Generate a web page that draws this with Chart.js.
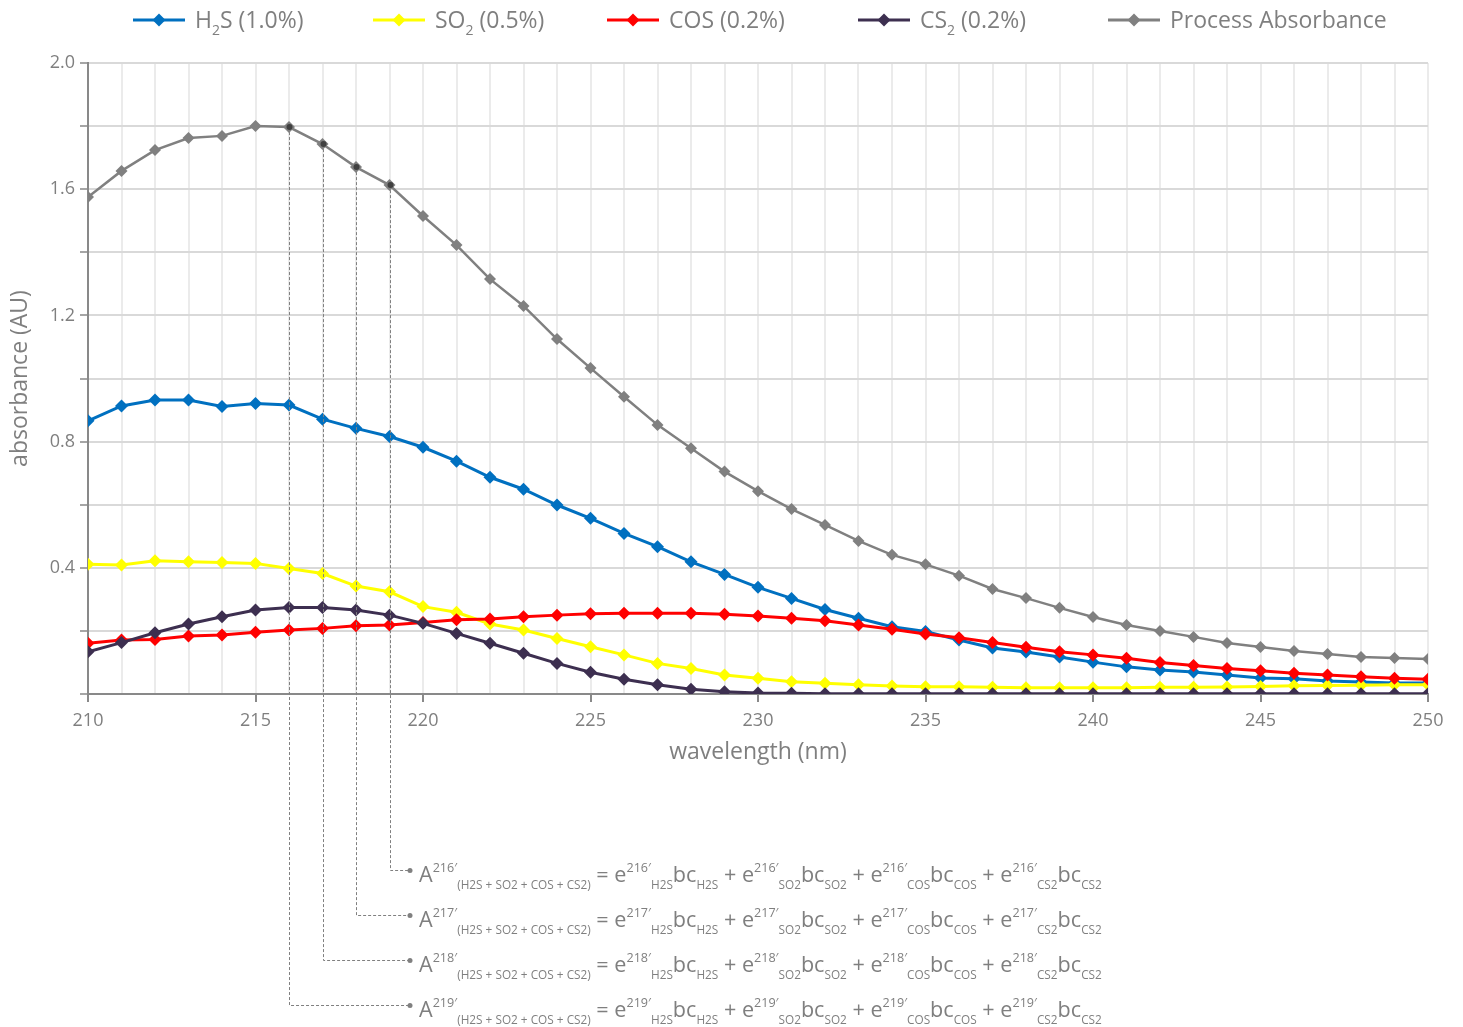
<!DOCTYPE html>
<html lang="en">
<head>
<meta charset="UTF-8">
<title>Absorbance</title>
<script src="https://cdn.jsdelivr.net/npm/chart.js@4.4.1/dist/chart.umd.min.js"></script>
<style>
    html, body { margin: 0; padding: 0; background: #ffffff; }
    canvas { display: block; }
</style>
</head>
<body>
<canvas id="grafico" width="1463" height="1027"></canvas>
<script>
    // comprimentos de onda (nm)
    var comprimentos = [210, 211, 212, 213, 214, 215, 216, 217, 218, 219, 220, 221, 222, 223, 224, 225, 226, 227, 228, 229,
        230, 231, 232, 233, 234, 235, 236, 237, 238, 239, 240, 241, 242, 243, 244, 245, 246, 247, 248, 249, 250];

    var h2s = [0.866, 0.913, 0.932, 0.932, 0.911, 0.921, 0.916, 0.871, 0.842, 0.816, 0.782, 0.738, 0.687, 0.649, 0.599,
        0.557, 0.509, 0.467, 0.419, 0.379, 0.338, 0.303, 0.268, 0.240, 0.213, 0.198, 0.171, 0.146, 0.133, 0.117,
        0.101, 0.086, 0.076, 0.070, 0.060, 0.051, 0.048, 0.041, 0.038, 0.035, 0.035];
    var so2 = [0.411, 0.409, 0.422, 0.419, 0.417, 0.414, 0.398, 0.382, 0.342, 0.324, 0.277, 0.259, 0.222, 0.203, 0.176,
        0.150, 0.124, 0.097, 0.081, 0.060, 0.050, 0.039, 0.034, 0.029, 0.025, 0.023, 0.023, 0.021, 0.020, 0.020,
        0.020, 0.020, 0.021, 0.021, 0.022, 0.024, 0.026, 0.027, 0.028, 0.029, 0.029];
    var cos = [0.161, 0.171, 0.173, 0.184, 0.187, 0.196, 0.203, 0.208, 0.216, 0.219, 0.227, 0.235, 0.238, 0.245, 0.250,
        0.254, 0.256, 0.256, 0.256, 0.253, 0.247, 0.240, 0.232, 0.219, 0.205, 0.190, 0.178, 0.163, 0.148, 0.134,
        0.124, 0.113, 0.100, 0.090, 0.081, 0.074, 0.066, 0.060, 0.055, 0.050, 0.047];
    var cs2 = [0.134, 0.163, 0.194, 0.222, 0.245, 0.266, 0.274, 0.274, 0.266, 0.250, 0.224, 0.192, 0.161, 0.129, 0.097,
        0.069, 0.047, 0.029, 0.015, 0.007, 0.003, 0.002, 0.001, 0.001, 0.001, 0.001, 0.001, 0.001, 0.001, 0.001,
        0.001, 0.001, 0.001, 0.001, 0.001, 0.001, 0.001, 0.001, 0.001, 0.001, 0.001];
    var processo = [1.575, 1.658, 1.724, 1.762, 1.769, 1.800, 1.797, 1.743, 1.670, 1.613, 1.515, 1.423, 1.315, 1.230, 1.125,
        1.033, 0.942, 0.853, 0.779, 0.705, 0.643, 0.586, 0.536, 0.485, 0.441, 0.411, 0.375, 0.333, 0.304, 0.273,
        0.244, 0.219, 0.200, 0.181, 0.162, 0.149, 0.136, 0.127, 0.117, 0.114, 0.111];

    var nomes = ['H2S (1.0%)', 'SO2 (0.5%)', 'COS (0.2%)', 'CS2 (0.2%)', 'Process Absorbance'];
    // mesma legenda, em pedaços (n = normal, sub = subscrito)
    var nomesRicos = [
        [['H', 'n'], ['2', 'sub'], ['S (1.0%)', 'n']],
        [['SO', 'n'], ['2', 'sub'], [' (0.5%)', 'n']],
        [['COS (0.2%)', 'n']],
        [['CS', 'n'], ['2', 'sub'], [' (0.2%)', 'n']],
        [['Process Absorbance', 'n']]
    ];
    var cores = ['#0070C0', '#FFFF00', '#FF0000', '#3D2F50', '#808080'];

    // pontos da curva de processo ligados as equacoes (de cima para baixo)
    var ligacoes = [219, 218, 217, 216];
    var rotulos = ['216\u2032', '217\u2032', '218\u2032', '219\u2032'];

    var fonte = '"Open Sans", "DejaVu Sans", sans-serif';
    var cinza = '#7F7F7F';
    var inicioLegenda = [133, 373, 607, 858, 1108];

    function serie(i, dados, largura, raio) {
        return {
            label: nomes[i],
            data: comprimentos.map(function (x, k) { return { x: x, y: dados[k] }; }),
            borderColor: cores[i],
            backgroundColor: cores[i],
            borderWidth: largura,
            pointStyle: 'rectRot',
            pointRadius: raio,
            pointHoverRadius: raio,
            pointBorderWidth: 0,
            tension: 0,
            order: 5 - i
        };
    }

    // escreve texto com pedacos sobrescritos / subscritos
    function textoRico(ctx, partes, x, base, tam) {
        partes.forEach(function (p) {
            var dy = 0;
            if (p[1] === 'sup') { ctx.font = tam.sup + 'px ' + fonte; dy = -tam.dsup; }
            else if (p[1] === 'sub') { ctx.font = tam.sub + 'px ' + fonte; dy = tam.dsub; }
            else { ctx.font = tam.n + 'px ' + fonte; }
            ctx.fillText(p[0], x, base + dy);
            x += ctx.measureText(p[0]).width;
        });
        return x;
    }

    var legenda = {
        id: 'legenda',
        afterDraw: function (chart) {
            var ctx = chart.ctx;
            var y = 20;
            ctx.save();
            ctx.textBaseline = 'alphabetic';
            for (var i = 0; i < nomes.length; i++) {
                var x = inicioLegenda[i];
                ctx.strokeStyle = cores[i];
                ctx.fillStyle = cores[i];
                ctx.lineWidth = 3;
                ctx.beginPath(); ctx.moveTo(x, y); ctx.lineTo(x + 52, y); ctx.stroke();
                ctx.beginPath();
                ctx.moveTo(x + 26, y - 6.5); ctx.lineTo(x + 32.5, y); ctx.lineTo(x + 26, y + 6.5); ctx.lineTo(x + 19.5, y);
                ctx.closePath(); ctx.fill();
                ctx.fillStyle = cinza;
                textoRico(ctx, nomesRicos[i], x + 62, y + 8, { n: 23, sub: 14, dsub: 7, sup: 14, dsup: 9 });
            }
            ctx.restore();
        }
    };

    var equacoes = {
        id: 'equacoes',
        afterDatasetsDraw: function (chart) {
            var ctx = chart.ctx;
            var sx = chart.scales.x, sy = chart.scales.y;
            ctx.save();
            for (var i = 0; i < ligacoes.length; i++) {
                var k = comprimentos.indexOf(ligacoes[i]);
                var px = Math.round(sx.getPixelForValue(ligacoes[i])) + 0.5;
                var py = sy.getPixelForValue(processo[k]);
                var ry = Math.round(chart.chartArea.bottom + 176 + i * 45) + 0.5;
                ctx.strokeStyle = '#808080';
                ctx.lineWidth = 1;
                ctx.setLineDash([3, 2]);
                ctx.beginPath();
                ctx.moveTo(px, py);
                ctx.lineTo(px, ry);
                ctx.lineTo(410, ry);
                ctx.stroke();
                ctx.setLineDash([]);
                ctx.fillStyle = '#808080';
                ctx.beginPath(); ctx.arc(410, ry, 2.5, 0, Math.PI * 2); ctx.fill();
                ctx.fillStyle = '#404040';
                ctx.beginPath(); ctx.arc(px, py, 3, 0, Math.PI * 2); ctx.fill();

                var L = rotulos[i];
                var partes = [['A', 'n'], [L, 'sup'], ['(H2S + SO2 + COS + CS2)', 'sub'], [' = e', 'n'], [L, 'sup'],
                    ['H2S', 'sub'], ['bc', 'n'], ['H2S', 'sub'], [' + e', 'n'], [L, 'sup'], ['SO2', 'sub'], ['bc', 'n'],
                    ['SO2', 'sub'], [' + e', 'n'], [L, 'sup'], ['COS', 'sub'], ['bc', 'n'], ['COS', 'sub'],
                    [' + e', 'n'], [L, 'sup'], ['CS2', 'sub'], ['bc', 'n'], ['CS2', 'sub']];
                ctx.fillStyle = cinza;
                ctx.textBaseline = 'alphabetic';
                textoRico(ctx, partes, 419, ry + 11, { n: 21.6, sub: 11.8, dsub: 7, sup: 12.6, dsup: 10 });
            }
            ctx.restore();
        }
    };

    Chart.defaults.font.family = fonte;
    Chart.defaults.color = cinza;

    var grafico = new Chart(document.getElementById('grafico').getContext('2d'), {
        type: 'line',
        data: {
            datasets: [
                serie(0, h2s, 3, 6.5),
                serie(1, so2, 3, 6.5),
                serie(2, cos, 3, 6.5),
                serie(3, cs2, 3, 6.5),
                serie(4, processo, 2.5, 6)
            ]
        },
        options: {
            responsive: false,
            animation: false,
            layout: { padding: { top: 63, right: 35, bottom: 261, left: 0 } },
            plugins: {
                legend: { display: false },
                tooltip: { enabled: false }
            },
            scales: {
                x: {
                    type: 'linear',
                    min: 210,
                    max: 250,
                    afterFit: function (s) { s.height = 72; },
                    ticks: {
                        stepSize: 1,
                        autoSkip: false,
                        maxRotation: 0,
                        padding: 8,
                        font: { size: 18 },
                        color: cinza,
                        callback: function (v) { return v % 5 === 0 ? String(v) : ''; }
                    },
                    grid: {
                        color: '#EBEBEB',
                        lineWidth: 2,
                        tickLength: 8,
                        tickColor: function (c) { return c.tick && c.tick.value % 5 === 0 ? '#898989' : 'rgba(0,0,0,0)'; }
                    },
                    border: { color: '#898989', width: 2 },
                    title: {
                        display: true,
                        text: 'wavelength (nm)',
                        font: { size: 23 },
                        color: cinza,
                        padding: { top: 0, bottom: 0 }
                    }
                },
                y: {
                    min: 0,
                    max: 2,
                    afterFit: function (s) { s.width = 88; },
                    ticks: {
                        stepSize: 0.2,
                        padding: 5,
                        font: { size: 18 },
                        color: cinza,
                        callback: function (v) {
                            var d = Math.round(v * 10);
                            return (d > 0 && d % 4 === 0) ? (d / 10).toFixed(1) : '';
                        }
                    },
                    grid: { color: '#D9D9D9', lineWidth: 2, tickLength: 8, tickColor: '#A6A6A6' },
                    border: { color: '#898989', width: 2 },
                    title: {
                        display: true,
                        text: 'absorbance (AU)',
                        font: { size: 23 },
                        color: cinza,
                        padding: { top: 7, bottom: 0 }
                    }
                }
            }
        },
        plugins: [legenda, equacoes]
    });
</script>
</body>
</html>
